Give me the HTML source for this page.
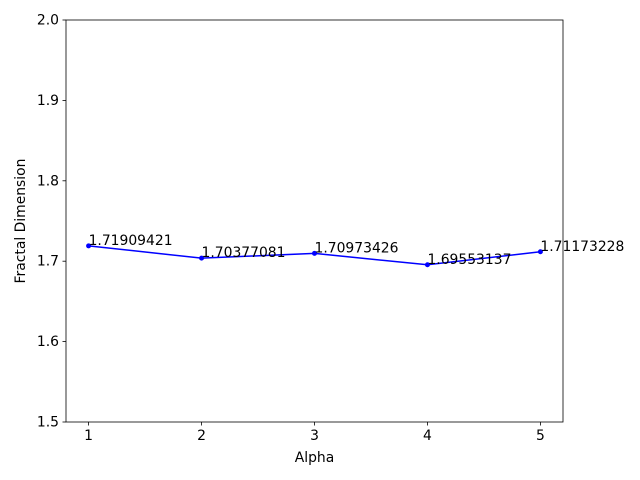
<!DOCTYPE html>
<html><head><meta charset="utf-8"><style>body{margin:0;background:#fff}svg{display:block}text{font-family:"DejaVu Sans","Liberation Sans",sans-serif;font-size:13.9px;fill:#000}</style></head>
<body>
<svg id="chart" width="640" height="480" viewBox="0 0 640 480" xmlns="http://www.w3.org/2000/svg"></svg>
<script>
const categories = [1, 2, 3, 4, 5];
const values = [1.71909421, 1.70377081, 1.70973426, 1.69553137, 1.71173228];
const labels = ["1.71909421", "1.70377081", "1.70973426", "1.69553137", "1.71173228"];
const xTicks = [1, 2, 3, 4, 5];
const yTicks = [1.5, 1.6, 1.7, 1.8, 1.9, 2.0];
const yTickLabels = ["1.5", "1.6", "1.7", "1.8", "1.9", "2.0"];

const L = 66, R = 563, T = 20, B = 422;
const xMin = 0.8, xMax = 5.2, yMin = 1.5, yMax = 2.0;
const xs = v => L + (v - xMin) / (xMax - xMin) * (R - L);
const ys = v => B - (v - yMin) / (yMax - yMin) * (B - T);
const NS = "http://www.w3.org/2000/svg";
const svg = document.getElementById('chart');
function mk(tag, attrs, parent) {
  const e = document.createElementNS(NS, tag);
  for (const k in attrs) e.setAttribute(k, attrs[k]);
  (parent || svg).appendChild(e);
  return e;
}

xTicks.forEach((t, i) => {
  const x = xs(t);
  const ln = mk('line', {x1: x, x2: x, y1: B, y2: B + 3.5, stroke: '#000', 'stroke-width': 0.8});
  
  
  const tx = mk('text', {x: x, y: B + 18, 'text-anchor': 'middle'});
  tx.textContent = String(t);
  
  
});
yTicks.forEach((t, i) => {
  const y = ys(t);
  const ln = mk('line', {x1: L - 3.5, x2: L, y1: y, y2: y, stroke: '#000', 'stroke-width': 0.8});
  
  
  const tx = mk('text', {x: L - 7, y: y + 4.5, 'text-anchor': 'end'});
  tx.textContent = yTickLabels[i];
  
  
});

const pts = categories.map((c, i) => xs(c) + ',' + ys(values[i])).join(' ');
const line = mk('polyline', {points: pts, fill: 'none', stroke: '#0000ff', 'stroke-width': 1.5});


categories.forEach((c, i) => {
  const p = mk('circle', {cx: xs(c), cy: ys(values[i]), r: 2.5, fill: '#0000ff'});
  
  
  const t = mk('text', {x: xs(c), y: ys(values[i]) - 1});
  t.textContent = labels[i];
  
  
});

const frame = mk('rect', {x: L, y: T, width: R - L, height: B - T, fill: 'none', stroke: '#000', 'stroke-width': 0.8});



const xl = mk('text', {x: (L + R) / 2, y: 462, 'text-anchor': 'middle'});
xl.textContent = 'Alpha';


const yl = mk('text', {x: 0, y: 0, 'text-anchor': 'middle', transform: 'translate(25,' + (T + B) / 2 + ') rotate(-90)'});
yl.textContent = 'Fractal Dimension';


</script>
</body></html>
